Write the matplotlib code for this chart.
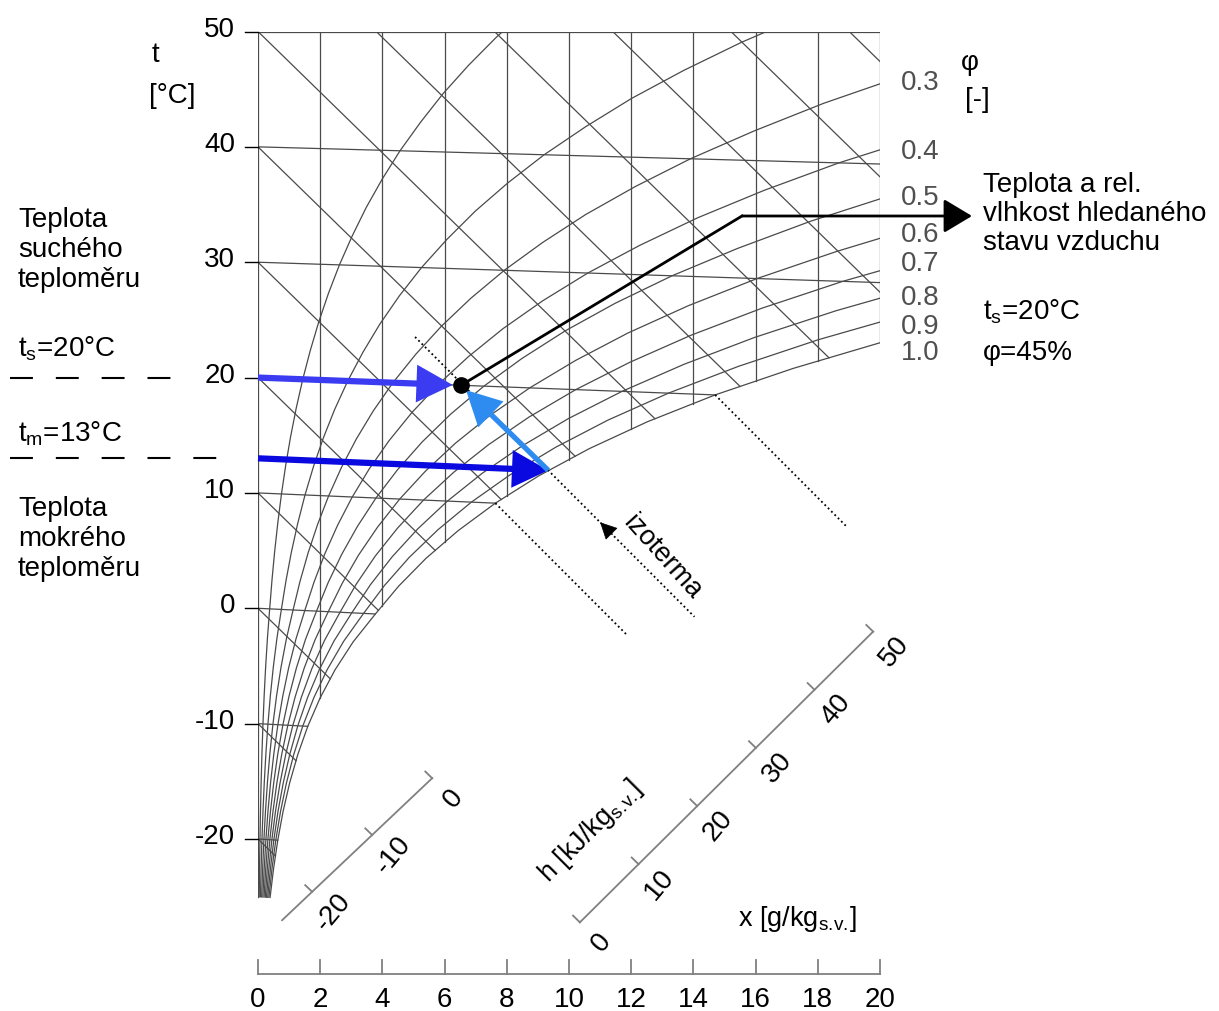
import matplotlib
matplotlib.use("Agg")
import matplotlib.pyplot as plt
import numpy as np
from matplotlib.patches import FancyArrowPatch, Rectangle

plt.rcParams["font.family"] = ["Liberation Sans", "DejaVu Sans"]
plt.rcParams["mathtext.fontset"] = "custom"
plt.rcParams["mathtext.rm"] = "Liberation Sans"
plt.rcParams["mathtext.it"] = "Liberation Sans:italic"
plt.rcParams["mathtext.default"] = "regular"

# saturation vapour pressure table the diagram is built on (ice below 0 degC)
t_nodes = [-25, -22.5, -20, -17.5, -15, -12.5, -10, -7.5, -5, -2.5, 0, 2.5, 5, 7.5,
           10, 12.5, 15, 17.5, 20, 22.5, 25, 27.5, 30, 32.5, 35, 37.5, 40, 42.5,
           45, 47.5, 50, 52.5, 55]
p_sat_kpa = [0.0633, 0.0813, 0.1035, 0.1310, 0.1653, 0.2078, 0.2600, 0.3240, 0.4017,
             0.4960, 0.6112, 0.7317, 0.8726, 1.0375, 1.2282, 1.4497, 1.7057, 2.0002,
             2.3392, 2.7287, 3.1697, 3.6749, 4.2467, 4.9013, 5.6286, 6.4597, 7.3844,
             8.4412, 9.5944, 10.908, 12.352, 13.970, 15.763]

phi_curves = [0.1, 0.2, 0.3, 0.4, 0.5, 0.6, 0.7, 0.8, 0.9, 1.0]
phi_labels = ["0.3", "0.4", "0.5", "0.6", "0.7", "0.8", "0.9", "1.0"]
phi_label_py = [83, 152, 198, 235, 264, 298, 327, 353]   # label rows, pixels
isotherms = [-20, -10, 0, 10, 20, 30, 40]
t_ticks = [-20, -10, 0, 10, 20, 30, 40, 50]
x_lines = [0, 2, 4, 6, 8, 10, 12, 14, 16, 18, 20]
h_lines = [-20, -10, 0, 10, 20, 30, 40, 50, 60, 70, 80, 90, 100]
h_scale_neg = [-20, -10, 0]
h_scale_pos = [0, 10, 20, 30, 40, 50]
fog_isotherms = [10, 20]

# state of the air from the example
t_s = 20
phi_s = 0.45
t_m = 13
p_sat_tm = 1.498

P_ATM = 101.325
SKEW = 0.13      # degC per g/kg, tilt of the isotherms
K_T = 0.00139
S_H = 2.63       # slope of isenthalps
S_FOG = 2.7      # slope of fog isotherms
T_TOP = 50
X_MAX = 20

# pixel layout of the chart
W, H = 1219, 1012
X0_PX, PX_PER_G = 258, 31.1
Y0_PX, PX_PER_C = 609.3, 11.536

GRID = "#4a4a4a"
AXIS = "#808080"
TXT = 20


def at(px, py):
    return (px - X0_PX) / PX_PER_G, (Y0_PX - py) / PX_PER_C


def x_of(phi, ps):
    ps = np.asarray(ps)
    return 622.0 * phi * ps / (P_ATM - phi * ps)


def chart_y(t, x):
    return np.asarray(t) + K_T * np.asarray(t) * x - SKEW * x


fig = plt.figure(figsize=(W / 100, H / 100), dpi=100)
ax = fig.add_axes([0, 0, 1, 1])
ax.set_xlim(at(0, 0)[0], at(W, 0)[0])
ax.set_ylim(at(0, H)[1], at(0, 0)[1])
ax.axis("off")

clip = Rectangle((0, -40), X_MAX, T_TOP + 40, transform=ax.transData)


def grid_line(xs, ys, **kw):
    (ln,) = ax.plot(xs, ys, color=GRID, lw=0.9, zorder=2, **kw)
    ln.set_clip_path(clip)
    return ln


t_arr = np.array(t_nodes, dtype=float)
ps_arr = np.array(p_sat_kpa)
x_sat = x_of(1.0, ps_arr)
y_sat = chart_y(t_arr, x_sat)

# relative humidity curves
for phi in phi_curves:
    xs = x_of(phi, ps_arr)
    grid_line(xs, chart_y(t_arr, xs))

# constant x lines
for xv in x_lines:
    grid_line([xv, xv], [T_TOP, np.interp(xv, x_sat, y_sat)])
grid_line([0, X_MAX], [T_TOP, T_TOP])

# isotherms up to saturation
for t in isotherms:
    xe = x_of(1.0, p_sat_kpa[t_nodes.index(t)])
    grid_line([0, xe], [chart_y(t, 0), chart_y(t, xe)])

# isenthalps
for h in h_lines:
    f = y_sat - (h - S_H * x_sat)
    x_end = np.interp(0, f, x_sat)
    x_start = 0.0 if h <= T_TOP else (h - T_TOP) / S_H
    if x_start >= X_MAX:
        continue
    grid_line([x_start, x_end], [h - S_H * x_start, h - S_H * x_end])

# fog isotherms (dotted)
for t in fog_isotherms:
    xs0 = x_of(1.0, p_sat_kpa[t_nodes.index(t)])
    ys0 = chart_y(t, xs0)
    xe = xs0 + 4.2
    ax.plot([xs0, xe], [ys0, ys0 - S_FOG * (xe - xs0)], color="black", lw=1.3,
            ls=(0, (1, 1.6)), zorder=3)

x_m = x_of(1.0, p_sat_tm)
y_m = chart_y(t_m, x_m)
x_a, x_b = 5.05, x_m + 4.7
ax.plot([x_a, x_b], [y_m - S_FOG * (x_a - x_m), y_m - S_FOG * (x_b - x_m)],
        color="black", lw=1.3, ls=(0, (1, 1.6)), zorder=3)
xk1, xk2 = 11.4, 11.0
ax.add_patch(FancyArrowPatch((xk1, y_m - S_FOG * (xk1 - x_m)), (xk2, y_m - S_FOG * (xk2 - x_m)),
                             arrowstyle="-|>,head_length=0.5,head_width=0.25",
                             mutation_scale=22, color="black", lw=0.5,
                             shrinkA=0, shrinkB=0, zorder=4))
ax.text(*at(662, 557), "izoterma", rotation=-48, ha="center", va="center", fontsize=19.5)

# y axis ticks and labels
for t in t_ticks:
    ax.plot([at(245, 0)[0], 0], [t, t], color="black", lw=1.0, zorder=2)
    ax.text(at(235, 0)[0], t + 0.25, f"{t}", ha="right", va="center", fontsize=20)
ax.text(*at(155, 55), "t", ha="center", va="center", fontsize=20)
ax.text(*at(172, 96), "[°C]", ha="center", va="center", fontsize=20)

# x axis at the bottom
y_axis = at(0, 975)[1]
y_tick_top = at(0, 961)[1]
ax.plot([0, X_MAX], [y_axis, y_axis], color=AXIS, lw=1.3)
for xv in x_lines:
    ax.plot([xv, xv], [y_axis, y_tick_top], color=AXIS, lw=1.3)
    ax.text(xv, at(0, 1000)[1], f"{xv}", ha="center", va="center", fontsize=20)
ax.text(*at(738, 926), r"x [g/kg$_{s.\!v.\!}$]", ha="left", va="baseline", fontsize=19.5)

# relative humidity labels
for lab, py in zip(phi_labels, phi_label_py):
    ax.text(*at(920, py), lab, ha="center", va="center", fontsize=20, color="#505050")
ax.text(*at(970, 63), "φ", ha="center", va="center", fontsize=20)
ax.text(*at(977, 100), "[-]", ha="center", va="center", fontsize=20)


# diagonal enthalpy scales
def h_scale(values, x_zero, x_per_h, h_from):
    hs = [h_from, values[-1]]
    xs = [x_zero + x_per_h * h for h in hs]
    ax.plot(xs, [h - S_H * x for h, x in zip(hs, xs)], color=AXIS, lw=1.3)
    for h in values:
        xv = x_zero + x_per_h * h
        yv = h - S_H * xv
        ax.plot([xv, xv - 0.22], [yv, yv + S_H * 0.22], color=AXIS, lw=1.3)
        ax.text(xv + 0.68, yv - 1.65, f"{h}", rotation=50, ha="center", va="center",
                fontsize=20)


h_scale(h_scale_neg, 5.6, 0.193, -25)
h_scale(h_scale_pos, 10.35, 0.1886, 0)
ax.text(*at(590, 832), r"h [kJ/kg$_{s.\!v.\!}$]", rotation=45, ha="center", va="center",
        fontsize=19.5)

# state point and construction
x_s = x_of(phi_s, p_sat_kpa[t_nodes.index(t_s)])
y_s = chart_y(t_s, x_s)

ax.plot([at(10, 0)[0], at(175, 0)[0]], [t_s, t_s], color="black", lw=1.5,
        dashes=(11, 11), zorder=3)
ax.plot([at(10, 0)[0], at(222, 0)[0]], [t_m, t_m], color="black", lw=1.5,
        dashes=(11, 11), zorder=3)

arrow_kw = dict(arrowstyle="-|>,head_length=0.5,head_width=0.26", mutation_scale=38,
                shrinkA=0, zorder=5, joinstyle="miter", capstyle="butt")
ax.add_patch(FancyArrowPatch((0, chart_y(t_s, 0)), (x_s, y_s), color="#3b3bf2", lw=4.5,
                             shrinkB=6, **arrow_kw))
ax.add_patch(FancyArrowPatch((0, chart_y(t_m, 0)), (x_m, y_m), color="#0a0ae0", lw=4.5,
                             shrinkB=0, **arrow_kw))
ax.add_patch(FancyArrowPatch((x_m, y_m), (x_s, y_s), color="#2e8cf0", lw=3.8,
                             shrinkB=5, **arrow_kw))

corner = at(742, 217)
ax.plot([x_s, corner[0]], [y_s, corner[1]], color="black", lw=2, zorder=5)
ax.add_patch(FancyArrowPatch(corner, (at(972, 0)[0], corner[1]), color="black", lw=2,
                             arrowstyle="-|>,head_length=0.5,head_width=0.3",
                             mutation_scale=35, shrinkA=0, shrinkB=0, zorder=5))
ax.plot([x_s], [y_s], "o", color="black", ms=11, zorder=6)

# explanatory texts
ax.text(*at(18, 250), "Teplota\nsuchého\nteploměru", ha="left", va="center", fontsize=TXT)
ax.text(*at(18, 357), "t$_s$=20°C", ha="left", va="baseline", fontsize=TXT)
ax.text(*at(18, 442), "t$_m$=13°C", ha="left", va="baseline", fontsize=TXT)
ax.text(*at(18, 539), "Teplota\nmokrého\nteploměru", ha="left", va="center", fontsize=TXT)
ax.text(*at(983, 214), "Teplota a rel.\nvlhkost hledaného\nstavu vzduchu", ha="left",
        va="center", fontsize=TXT, linespacing=1.15)
ax.text(*at(983, 320), "t$_s$=20°C", ha="left", va="baseline", fontsize=TXT)
ax.text(*at(983, 360), "φ=45%", ha="left", va="baseline", fontsize=TXT)

fig.savefig("out.png", dpi=100)
